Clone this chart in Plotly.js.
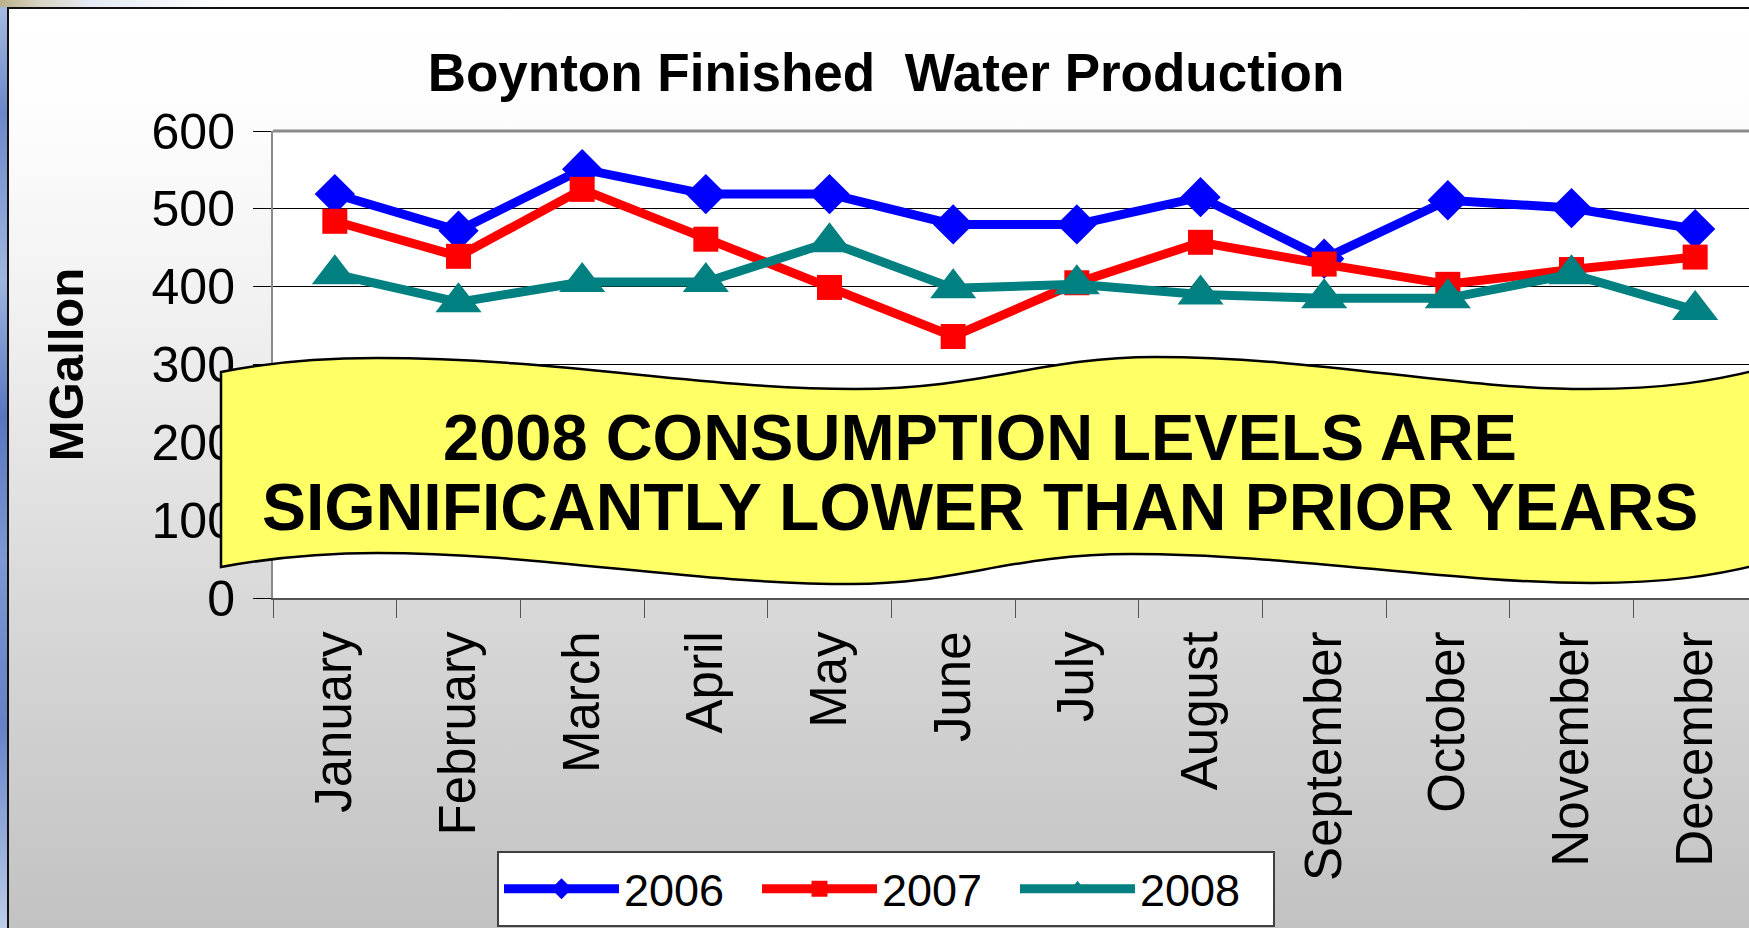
<!DOCTYPE html>
<html>
<head>
<meta charset="utf-8">
<script src="https://cdn.plot.ly/plotly-3.0.1.min.js"></script>
<style>
html,body{margin:0;padding:0;width:1749px;height:928px;overflow:hidden;background:#ffffff;}
#strip{position:absolute;left:0;top:0;width:7px;height:928px;
  background:linear-gradient(to bottom,#a9bde2 0%,#6c88c8 12%,#9fb5e0 30%,#5877bf 45%,#7d98d2 60%,#6582c6 78%,#bccde9 100%);}
#topstrip{position:absolute;left:0;top:0;width:1749px;height:7px;
  background:linear-gradient(to right,#b9b08a 0px,#d9d5c4 40px,#e4e9f3 90px,#ffffff 220px);}
#frame{position:absolute;left:7px;top:7px;width:1742px;height:921px;box-sizing:border-box;
  border-top:2px solid #111;border-left:2px solid #111;
  background:linear-gradient(to bottom,#ffffff 0px,#fdfdfd 110px,#f1f1f1 300px,#e2e2e2 480px,#d8d8d8 600px,#cdcdcd 760px,#c2c2c2 921px);}
#chart{position:absolute;left:0;top:0;width:1757px;height:928px;}
</style>
</head>
<body>
<div id="strip"></div>
<div id="topstrip"></div>
<div id="frame"></div>
<div id="chart"></div>
<script>
// ---- data ----
const months = ['January','February','March','April','May','June','July','August','September','October','November','December'];
const seriesNames = ['2006','2007','2008'];
const v2006 = [519, 472, 551, 519, 519, 480, 480, 515, 436, 511, 501, 474];
const v2007 = [484, 439, 525, 461, 399, 336, 405, 457, 429, 403, 422, 438];
const v2008 = [416, 380, 406, 406, 457, 398, 403, 390, 385, 385, 416, 370];
const yTicks = [0, 100, 200, 300, 400, 500, 600];
const chartTitle = 'Boynton Finished\u00a0 Water Production';
const yTitle = 'MGallon';
const bannerLine1 = '2008 CONSUMPTION LEVELS ARE';
const bannerLine2 = 'SIGNIFICANTLY LOWER THAN PRIOR YEARS';

// ---- layout geometry (pixels) ----
const W = 1757, H = 928;
const M = {l: 273, r: 0, t: 131, b: 330};
const plotW = W - M.l - M.r, plotH = H - M.t - M.b;
const px = x => ((x - M.l) / plotW).toFixed(5);
const py = y => ((H - M.b - y) / plotH).toFixed(5);
const pt = (x, y) => px(x) + ',' + py(y);

const FONT = 'Liberation Sans, Arial, Helvetica, sans-serif';

// wavy banner outline (pixel space -> paper space)
const bannerPath =
  'M' + pt(221,372) +
  ' C' + pt(270,362) + ' ' + pt(320,358) + ' ' + pt(377,358) +
  ' C' + pt(560,358) + ' ' + pt(700,389) + ' ' + pt(855,389) +
  ' C' + pt(985,389) + ' ' + pt(1040,357) + ' ' + pt(1155,357) +
  ' C' + pt(1320,357) + ' ' + pt(1450,389) + ' ' + pt(1588,389) +
  ' C' + pt(1665,389) + ' ' + pt(1715,381) + ' ' + pt(1765,368) +
  ' L' + pt(1765,563) +
  ' C' + pt(1715,576) + ' ' + pt(1665,583) + ' ' + pt(1592,583) +
  ' C' + pt(1450,583) + ' ' + pt(1290,554) + ' ' + pt(1132,554) +
  ' C' + pt(1010,554) + ' ' + pt(960,584) + ' ' + pt(852,584) +
  ' C' + pt(690,584) + ' ' + pt(540,553) + ' ' + pt(377,553) +
  ' C' + pt(320,553) + ' ' + pt(270,558) + ' ' + pt(221,567) +
  ' Z';

const mk = (name, y, color, symbol, size) => ({
  type: 'scatter', mode: 'lines+markers', name: name,
  x: months, y: y,
  line: {color: color, width: 9},
  marker: {color: color, symbol: symbol, size: size, line: {width: 0}},
  cliponaxis: false
});

const data = [
  mk(seriesNames[0], v2006, '#0000ff', 'diamond', 31),
  mk(seriesNames[1], v2007, '#ff0000', 'square', 25),
  mk(seriesNames[2], v2008, '#008080', 'triangle-up', 40)
];

const layout = {
  width: W, height: H,
  margin: M,
  paper_bgcolor: 'rgba(0,0,0,0)',
  plot_bgcolor: '#ffffff',
  font: {family: FONT, color: '#000000'},
  showlegend: true,
  title: {
    text: chartTitle,
    font: {family: FONT, size: 53, color: '#000000', weight: 'bold'},
    x: 886 / W, xanchor: 'center',
    y: 1 - 72 / H, yanchor: 'middle'
  },
  xaxis: {
    type: 'category',
    range: [-0.5, 11.5],
    tickson: 'boundaries',
    ticks: 'outside', ticklen: 18, tickwidth: 1, tickcolor: '#555555',
    showline: true, linecolor: '#555555', linewidth: 2,
    showgrid: false, zeroline: false,
    tickangle: -90,
    ticklabelstandoff: 11,
    tickfont: {family: FONT, size: 51, color: '#000000'},
    fixedrange: true
  },
  yaxis: {
    range: [0, 600],
    tickvals: yTicks,
    ticks: 'outside', ticklen: 18, tickwidth: 1, tickcolor: '#000000',
    showline: true, linecolor: '#8a8a8a', linewidth: 2,
    showgrid: true, gridcolor: '#000000', gridwidth: 1,
    zeroline: false,
    ticklabelstandoff: 8,
    tickfont: {family: FONT, size: 50, color: '#000000'},
    title: {text: yTitle, font: {family: FONT, size: 49, color: '#000000', weight: 'bold'}, standoff: 52},
    fixedrange: true
  },
  legend: {
    orientation: 'h',
    x: (497 - M.l) / plotW, xanchor: 'left',
    y: (H - M.b - 851) / plotH, yanchor: 'top',
    bgcolor: '#ffffff', bordercolor: '#404040', borderwidth: 2,
    font: {family: FONT, size: 45, color: '#000000'},
    itemwidth: 115,
    entrywidth: 128, entrywidthmode: 'pixels',
    traceorder: 'normal'
  },
  shapes: [
    {type: 'line', xref: 'paper', yref: 'paper', x0: 0, x1: 1, y0: 1, y1: 1,
     line: {color: '#8c8c8c', width: 3}, layer: 'above'},
    {type: 'path', xref: 'paper', yref: 'paper', path: bannerPath,
     fillcolor: '#ffff66', line: {color: '#000000', width: 2.5}, layer: 'above'}
  ],
  annotations: [
    {xref: 'paper', yref: 'paper', x: +px(980), y: +py(437), xanchor: 'center', yanchor: 'middle',
     text: bannerLine1, showarrow: false, font: {family: FONT, size: 65, color: '#000000', weight: 'bold'}},
    {xref: 'paper', yref: 'paper', x: +px(980), y: +py(507), xanchor: 'center', yanchor: 'middle',
     text: bannerLine2, showarrow: false, font: {family: FONT, size: 66, color: '#000000', weight: 'bold'}}
  ]
};

Plotly.newPlot('chart', data, layout, {displayModeBar: false, staticPlot: true});
</script>
</body>
</html>
